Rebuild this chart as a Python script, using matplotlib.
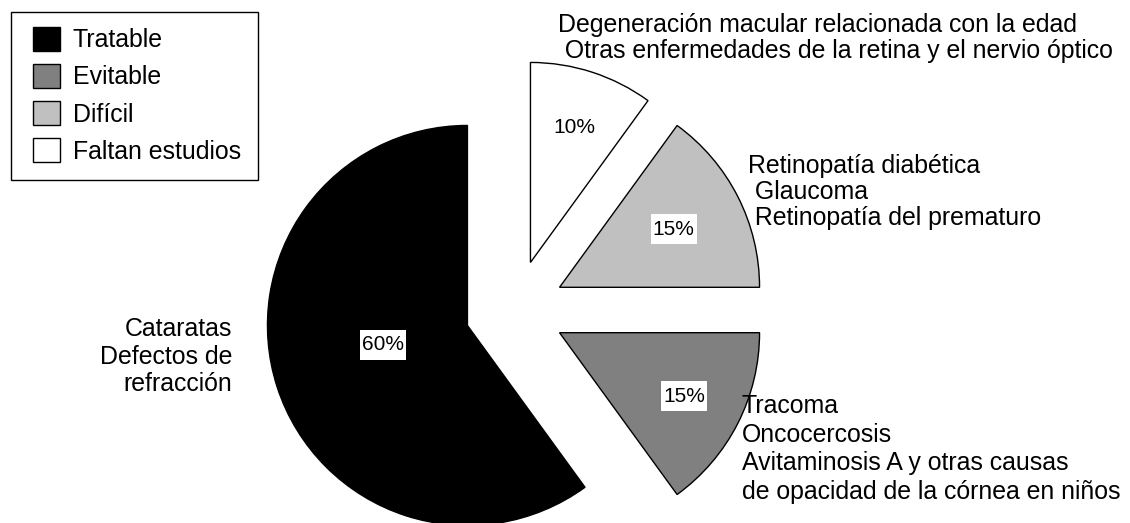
import matplotlib
matplotlib.use("Agg")
import matplotlib.pyplot as plt
import numpy as np
from matplotlib.patches import Rectangle

plt.rcParams['font.family'] = ['Liberation Sans', 'DejaVu Sans']

# ---- data ----
categories = ["Tratable", "Evitable", "Difícil", "Faltan estudios"]
shares = [60, 15, 15, 10]
colors = ["#000000", "#808080", "#c0c0c0", "#ffffff"]
cause_texts = [
    "Cataratas\nDefectos de\nrefracción",
    "Tracoma\nOncocercosis\nAvitaminosis A y otras causas\nde opacidad de la córnea en niños",
    "Retinopatía diabética\n Glaucoma\n Retinopatía del prematuro",
    "Degeneración macular relacionada con la edad\n Otras enfermedades de la retina y el nervio óptico",
]

W, H = 1130, 523
fig = plt.figure(figsize=(W / 100, H / 100), dpi=100)
ax = fig.add_axes([0, 0, 1, 1])

radius = 200
explode = [50, 50, 50, 50]
wedges, texts, autotexts = ax.pie(
    shares, colors=colors, explode=explode, radius=radius, center=(515, 213),
    startangle=90, counterclock=True, autopct='%1.0f%%',
    wedgeprops=dict(edgecolor='black', linewidth=1.0),
    textprops=dict(fontsize=15, color='black'), frame=True)
ax.set_xlim(0, W)
ax.set_ylim(0, H)
ax.set_aspect('equal')
ax.axis('off')

# percentage label placement (fraction of radius from each wedge's apex, angle tweak)
label_dist = [0.433, 0.70, 0.64, 0.71]
label_dang = [-5, 0, 0, 0]
for w, t, d, da in zip(wedges, autotexts, label_dist, label_dang):
    mid = np.deg2rad((w.theta1 + w.theta2) / 2 + da)
    cx, cy = w.center
    t.set_position((cx + d * w.r * np.cos(mid), cy + d * w.r * np.sin(mid)))
    t.set_ha('center'); t.set_va('center')
    t.set_bbox(dict(boxstyle='square,pad=0.1', facecolor='white', edgecolor='none'))
    t.get_bbox_patch().set_mutation_aspect(2.6)

fs = 17.9
# cause annotations: (x, first baseline in px from top, line step px, ha)
blocks = [(232, 336, 27.5, 'right'),
          (742, 413, 28.7, 'left'),
          (748, 173, 26.0, 'left'),
          (558, 32, 26.0, 'left')]
for txt, (x, y0, step, ha) in zip(cause_texts, blocks):
    for i, line in enumerate(txt.split('\n')):
        ax.text(x, H - (y0 + i * step), line, ha=ha, va='baseline', fontsize=fs)

# legend
leg = ax.legend(wedges, categories, loc='upper left',
                bbox_to_anchor=(33 / W, 1 - 27 / H), bbox_transform=fig.transFigure,
                frameon=False, fontsize=fs, handlelength=1.1, handleheight=1.1,
                handletextpad=0.5, labelspacing=0.47, borderpad=0, borderaxespad=0)
fig.patches.append(Rectangle((11 / W, 1 - 180 / H), 247 / W, 168 / H,
                             transform=fig.transFigure, fill=False,
                             edgecolor='black', linewidth=1.0))

fig.savefig('out.png', dpi=100, facecolor='white')
